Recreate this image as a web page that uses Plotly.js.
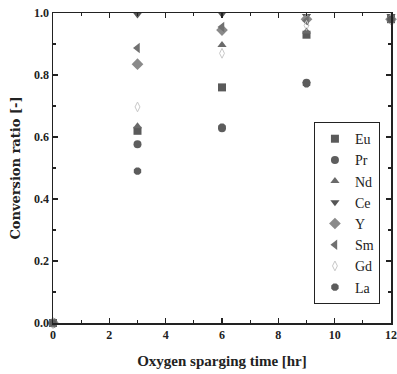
<!DOCTYPE html>
<html><head><meta charset="utf-8">
<script src="https://cdn.plot.ly/plotly-3.0.1.min.js"></script>
<style>body{margin:0;background:#fff}#chart{width:397px;height:374px}</style>
</head><body><div id="chart"></div>
<script>
const time = [0, 3, 6, 9, 12];
const seriesNames = ["Eu", "Pr", "Nd", "Ce", "Y", "Sm", "Gd", "La"];
const Eu = [0, 0.62, 0.76, 0.93, 0.98];
const Pr = [0, 0.577, 0.628, 0.775, 0.98];
const Nd = [0, 0.635, 0.897, 0.94, 0.98];
const Ce = [0, 0.995, 0.997, 0.99, 0.99];
const Yv = [0, 0.835, 0.945, 0.98, 0.98];
const Sm = [0, 0.887, 0.955, 0.975, 0.98];
const Gd = [0, 0.697, 0.87, 0.96, 0.98];
const La = [0, 0.49, 0.632, 0.772, 0.98];
const xTicks = [0, 2, 4, 6, 8, 10, 12];
const yTicks = [0, 0.2, 0.4, 0.6, 0.8, 1.0];
const yTickText = ["0.0", "0.2", "0.4", "0.6", "0.8", "1.0"];

const values = [Eu, Pr, Nd, Ce, Yv, Sm, Gd, La];
const symbols = ["square", "circle", "triangle-up", "triangle-down", "diamond", "triangle-left", "diamond-tall-open", "octagon"];
const colors = ["#5a5a5a", "#5e5e5e", "#6a6a6a", "#555555", "#8a8a8a", "#707070", "#c8c8c8", "#5c5c5c"];
const sizes = [8, 8, 8, 8, 9, 9, 7, 8];

const traces = seriesNames.map((n, i) => ({
  x: time, y: values[i], name: n, type: "scatter", mode: "markers",
  cliponaxis: false,
  marker: {symbol: symbols[i], color: colors[i], size: sizes[i], line: {width: i === 6 ? 1 : 0, color: colors[i]}}
}));

const axisCommon = {
  showgrid: false, zeroline: false, showline: true, linecolor: "#222", linewidth: 1.5,
  mirror: "ticks", ticks: "inside", ticklen: 5, tickcolor: "#222", tickwidth: 1.2,
  tickfont: {family: "Liberation Serif", size: 12, color: "#222", weight: "bold"}
};

const layout = {
  width: 397, height: 374,
  margin: {l: 53, r: 6, t: 13, b: 51},
  paper_bgcolor: "#fff", plot_bgcolor: "#fff",
  showlegend: true,
  legend: {x: 0.772, y: 0.648, xanchor: "left", yanchor: "top",
    bordercolor: "#222", borderwidth: 1, bgcolor: "#fff",
    font: {family: "Liberation Serif", size: 14, color: "#222"},
    tracegroupgap: 0, itemwidth: 30},
  xaxis: Object.assign({}, axisCommon, {
    range: [0, 12], tickvals: xTicks, ticktext: xTicks.map(String),
    minor: {ticks: "inside", ticklen: 3, tickcolor: "#222", dtick: 1, tick0: 0},
    title: {text: "Oxygen sparging time [hr]", standoff: 14,
      font: {family: "Liberation Serif", size: 15, color: "#222", weight: "bold"}}
  }),
  yaxis: Object.assign({}, axisCommon, {
    range: [0, 1], tickvals: yTicks, ticktext: yTickText,
    minor: {ticks: "inside", ticklen: 3, tickcolor: "#222", dtick: 0.1, tick0: 0},
    title: {text: "Conversion ratio [-]", standoff: 10,
      font: {family: "DejaVu Serif", size: 13, color: "#222", weight: "bold"}}
  })
};

Plotly.newPlot("chart", traces, layout, {displayModeBar: false, staticPlot: true});
</script></body></html>
